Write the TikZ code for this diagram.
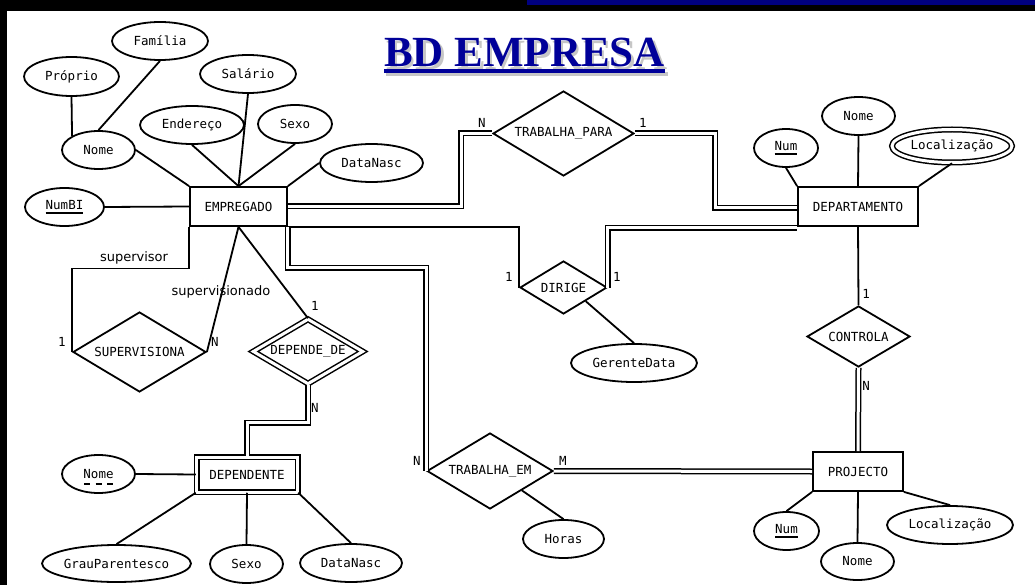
\documentclass[tikz,border=0pt]{standalone}
\usepackage{fontspec}
\setmainfont{Liberation Serif}
\setsansfont{DejaVu Sans}
\setmonofont{DejaVu Sans Mono}
\usetikzlibrary{shapes.geometric,calc}
\definecolor{titleblue}{RGB}{0,0,153}
\definecolor{stripeblue}{RGB}{0,0,128}
\newcommand\erfont{\ttfamily\fontsize{12.5}{14}\selectfont}
\newcommand\rolefont{\sffamily\fontsize{13}{15}\selectfont}
\newcommand\titlefont{\rmfamily\bfseries\fontsize{43}{48}\selectfont}
\newcommand\ulkey[1]{\setbox0\hbox{#1}\rlap{\raisebox{-4pt}{\rule{\wd0}{1.8pt}}}\box0}
\begin{document}
\begin{tikzpicture}[x=1pt,y=-1pt,
  ln/.style={line width=1.8pt},
  dbl/.style={line width=1.5pt,double,double distance=3pt},
  attr/.style={ellipse,draw,line width=1.8pt,inner sep=0pt,font=\erfont},
  ent/.style={rectangle,draw,line width=1.8pt,inner sep=0pt,font=\erfont},
  rel/.style={diamond,draw,line width=1.8pt,inner sep=0pt},
  dblborder/.style={double,line width=1.5pt,double distance=3pt},
  card/.style={font=\erfont,inner sep=0pt},
  role/.style={font=\rolefont,inner sep=0pt},
  every label/.append style={font=\erfont,inner sep=0pt}]
\fill[black] (0,0) rectangle (1035,585);
\fill[white] (7,11) rectangle (1035,585);
\fill[stripeblue] (527,0) rectangle (1035,5);
\useasboundingbox (0,0) rectangle (1035,585);

% title
\node[anchor=base,font=\titlefont,text=gray!45,inner sep=0pt] (titleshadow) at (527,69.5) {BD EMPRESA};
\fill[gray!45] ($(titleshadow.base west)+(0,2.5)$) rectangle ($(titleshadow.base east)+(0,6.5)$);
\node[anchor=base,font=\titlefont,text=titleblue,inner sep=0pt] (title) at (524.5,67) {BD EMPRESA};
\fill[titleblue] ($(title.base west)+(0,2.5)$) rectangle ($(title.base east)+(0,6.5)$);

% entities
\node[ent,minimum width=97,minimum height=39] (emp) at (238.5,206.5) {EMPREGADO};
\node[ent,minimum width=120,minimum height=39] (dep) at (858,206.5) {DEPARTAMENTO};
\node[ent,minimum width=90,minimum height=39] (proj) at (858,471.5) {PROJECTO};
\node[ent,dblborder,minimum width=101,minimum height=35] (dpt) at (247,474.5) {DEPENDENTE};

% relationships
\node[rel,minimum width=141,minimum height=85,label=center:TRABALHA\_PARA] (tp) at (563.5,133.5) {};
\node[rel,minimum width=133,minimum height=80,label=center:SUPERVISIONA] (sup) at (139.5,352) {};
\node[rel,dblborder,minimum width=110,minimum height=65,label=center:DEPENDE\_DE] (dd) at (308,351.5) {};
\node[rel,minimum width=87,minimum height=53,label=center:DIRIGE] (dir) at (563.5,287.5) {};
\node[rel,minimum width=103,minimum height=61,label=center:CONTROLA] (ctl) at (858.5,336.5) {};
\node[rel,minimum width=126,minimum height=76,label=center:TRABALHA\_EM] (te) at (490,471) {};

% attributes of EMPREGADO
\node[attr,minimum width=96,minimum height=38] (fam) at (160,41) {Família};
\node[attr,minimum width=95,minimum height=39] (prop) at (71.5,76.5) {Próprio};
\node[attr,minimum width=73,minimum height=38] (nome) at (98.5,150) {Nome};
\node[attr,minimum width=96,minimum height=38] (sal) at (248,74) {Salário};
\node[attr,minimum width=104,minimum height=38] (ender) at (192,125) {Endereço};
\node[attr,minimum width=74,minimum height=38] (sexo) at (295,124) {Sexo};
\node[attr,minimum width=103,minimum height=38] (dn) at (371.5,163) {DataNasc};
\node[attr,minimum width=79,minimum height=38] (nb) at (64.5,207) {\ulkey{NumBI}};

% attributes of DEPARTAMENTO
\node[attr,minimum width=64,minimum height=38] (dnum) at (786,148) {\ulkey{Num}};
\node[attr,minimum width=73,minimum height=38] (dnm) at (858.5,116) {Nome};
\node[attr,dblborder,minimum width=120,minimum height=33] (dloc) at (952,146) {Localização};

% attribute of DIRIGE
\node[attr,minimum width=126,minimum height=38] (gd) at (634,363) {GerenteData};

% attributes of PROJECTO
\node[attr,minimum width=65,minimum height=38] (pnum) at (786.5,531) {\ulkey{Num}};
\node[attr,minimum width=73,minimum height=37] (pnm) at (857.5,561.5) {Nome};
\node[attr,minimum width=126,minimum height=38] (ploc) at (950,525) {Localização};

% attribute of TRABALHA_EM
\node[attr,minimum width=81,minimum height=38] (horas) at (563.5,539) {Horas};

% attributes of DEPENDENTE
\node[attr,minimum width=73,minimum height=38] (dnome) at (98.5,474) {Nome};
\node[attr,minimum width=149,minimum height=37] (gp) at (116.5,563.5) {GrauParentesco};
\node[attr,minimum width=73,minimum height=38] (dsx) at (246.5,564) {Sexo};
\node[attr,minimum width=102,minimum height=38] (ddn) at (351,563) {DataNasc};
\draw[line width=1.8pt,dash pattern=on 6pt off 5.5pt] ($(dnome.center)+(-14.5,10)$) -- ($(dnome.center)+(15,10)$);

% attribute connectors
\draw[ln] (fam.south) -- (nome.north);
\draw[ln] (prop.south) -- (nome.north west);
\draw[ln] (nome.east) -- (emp.north west);
\draw[ln] (ender.south) -- (emp.north);
\draw[ln] (sal.south) -- (emp.north);
\draw[ln] (sexo.south) -- (emp.north);
\draw[ln] (dn.west) -- (emp.north east);
\draw[ln] (nb.east) -- (emp.west);
\draw[ln] (dnum.south) -- (dep.north west);
\draw[ln] (dnm.south) -- (dep.north);
\draw[ln] (dloc.south) -- (dep.north east);
\draw[ln] (dir.south east) -- (gd.north);
\draw[ln] (pnum.north) -- (proj.south west);
\draw[ln] (pnm.north) -- (proj.south);
\draw[ln] (ploc.north) -- (proj.south east);
\draw[ln] (te.south east) -- (horas.north);
\draw[ln] (dnome.east) -- (dpt.west);
\draw[ln] (gp.north) -- (dpt.south west);
\draw[ln] (dsx.north) -- (dpt.south);
\draw[ln] (ddn.north) -- (dpt.south east);

% relationship connectors
\draw[dbl] (emp.east) -| ([xshift=-31]tp.west) -- (tp.west);
\draw[dbl] (tp.east) -| ([xshift=-82,yshift=-1.5]dep.west) -- ([yshift=-1.5]dep.west);
\draw[ln] (emp.south east) -| (dir.west);
\draw[dbl] (dir.east) |- ([yshift=-1]dep.south west);
\draw[dbl] (emp.south east) -- ++(0,41) -| (te.west);
\draw[dbl] (te.east) -- (proj.west);
\draw[ln] (dep.south) -- (ctl.north);
\draw[dbl] (ctl.south) -- (proj.north);
\draw[ln] (emp.south west) -- ++(0,41.5) -| (sup.west);
\draw[ln] (emp.south) -- (sup.east);
\draw[ln] (emp.south) -- (dd.north);
\draw[dbl] (dd.south) -- ++(0,38) -| (dpt.north);

% cardinalities
\node[card] (c1) at (482,123) {N};
\node[card] (c2) at (643,123) {1};
\node[card] (c3) at (509,277) {1};
\node[card] (c4) at (617,277) {1};
\node[card] (c5) at (866,294) {1};
\node[card] (c6) at (866,386) {N};
\node[card] (c7) at (417,461) {N};
\node[card] (c8) at (563,461) {M};
\node[card] (c9) at (62,342) {1};
\node[card] (c10) at (215,342) {N};
\node[card] (c11) at (315,306) {1};
\node[card] (c12) at (315,408) {N};

% roles
\node[role] (r1) at (134,258) {supervisor};
\node[role] (r2) at (221,292) {supervisionado};
\end{tikzpicture}
\end{document}
